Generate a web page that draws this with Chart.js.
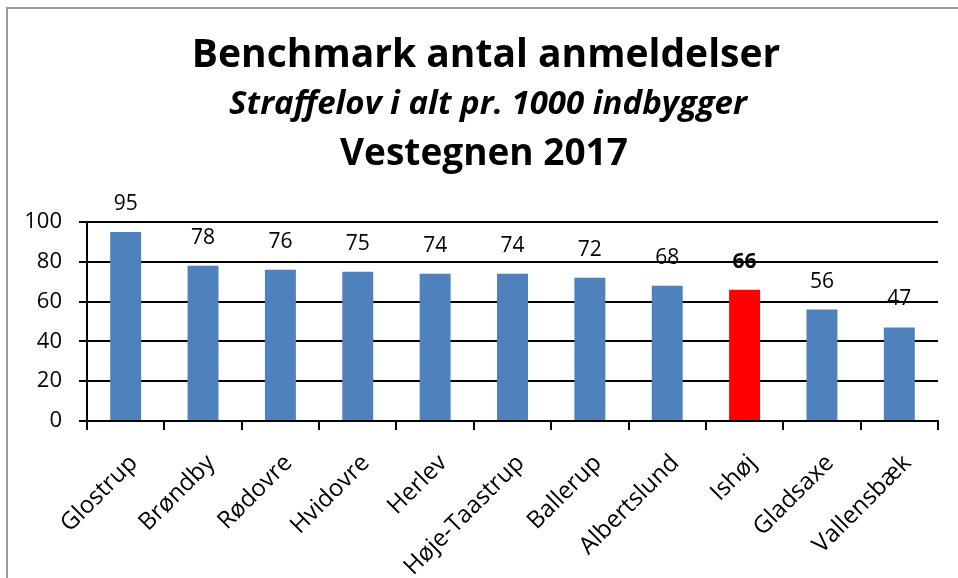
<!DOCTYPE html>
<html>
<head>
<meta charset="utf-8">
<title>Benchmark antal anmeldelser</title>
<script src="https://cdn.jsdelivr.net/npm/chart.js@4/dist/chart.umd.min.js"></script>
<style>
  html, body { margin: 0; padding: 0; background: #fff; overflow: hidden; }
  #frame {
    position: absolute; left: 6px; top: 7px; width: 980px; height: 600px;
    border-left: 2px solid #9a9a9a; border-top: 2px solid #9a9a9a;
  }
  #chart { position: absolute; left: 0; top: 0; }
</style>
</head>
<body>
<div id="frame"></div>
<canvas id="chart" width="958" height="578"></canvas>
<script>
// Data
const municipalities = ["Glostrup", "Brøndby", "Rødovre", "Hvidovre", "Herlev", "Høje-Taastrup", "Ballerup", "Albertslund", "Ishøj", "Gladsaxe", "Vallensbæk"];
const reports = [95, 78, 76, 75, 74, 74, 72, 68, 66, 56, 47];
const highlighted = "Ishøj";
const yTicks = [0, 20, 40, 60, 80, 100];

const titleLines = ["Benchmark antal anmeldelser", "Straffelov i alt pr. 1000 indbygger", "Vestegnen 2017"];

const FONT = "'Open Sans', sans-serif";
const blue = "#4f81bd";
const red = "#ff0000";

const barColors = municipalities.map(m => (m === highlighted ? red : blue));

// draws the three title lines (alphabetic baselines)
const titlePlugin = {
  id: "titleLines",
  afterDraw(chart) {
    const ctx = chart.ctx;
    ctx.save();
    ctx.fillStyle = "#000";
    ctx.textAlign = "center";
    ctx.textBaseline = "alphabetic";
    ctx.font = "bold 39px " + FONT;
    ctx.fillText(titleLines[0], 486, 67);
    ctx.font = "italic bold 33px " + FONT;
    ctx.fillText(titleLines[1], 488, 114);
    ctx.font = "bold 37px " + FONT;
    ctx.fillText(titleLines[2], 484, 165);
    ctx.restore();
  }
};

// value labels above the bars
const valueLabels = {
  id: "valueLabels",
  afterDatasetsDraw(chart) {
    const ctx = chart.ctx;
    const meta = chart.getDatasetMeta(0);
    ctx.save();
    ctx.fillStyle = "#000";
    ctx.textAlign = "center";
    ctx.textBaseline = "middle";
    meta.data.forEach((bar, i) => {
      const bold = municipalities[i] === highlighted;
      ctx.font = (bold ? "bold " : "") + "21px " + FONT;
      ctx.fillText(String(reports[i]), bar.x, bar.y - 28);
    });
    ctx.restore();
  }
};

new Chart(document.getElementById("chart"), {
  type: "bar",
  data: {
    labels: municipalities,
    datasets: [{
      data: reports,
      backgroundColor: barColors,
      borderWidth: 0,
      categoryPercentage: 1,
      barPercentage: 0.4
    }]
  },
  options: {
    responsive: false,
    animation: false,
    devicePixelRatio: 1,
    layout: { padding: { top: 222, left: 0, right: 20, bottom: 0 } },
    plugins: {
      legend: { display: false },
      tooltip: { enabled: false },
      title: { display: false }
    },
    scales: {
      x: {
        afterFit(scale) { scale.height = 157; },
        grid: { offset: true, drawOnChartArea: false, tickLength: 9, color: "#000", lineWidth: 2 },
        border: { color: "#000", width: 2 },
        ticks: {
          color: "#000",
          font: { family: FONT, size: 24 },
          minRotation: 45,
          maxRotation: 45,
          autoSkip: false,
          labelOffset: 8,
          padding: 19
        }
      },
      y: {
        min: 0,
        max: 100,
        afterFit(scale) { scale.width = 87; },
        afterBuildTicks(scale) { scale.ticks = yTicks.map(v => ({ value: v })); },
        grid: { color: "#000", lineWidth: 2, tickLength: 8 },
        border: { color: "#000", width: 2 },
        ticks: {
          color: "#000",
          font: { family: FONT, size: 22 },
          padding: 17
        }
      }
    }
  },
  plugins: [titlePlugin, valueLabels]
});
</script>
</body>
</html>
